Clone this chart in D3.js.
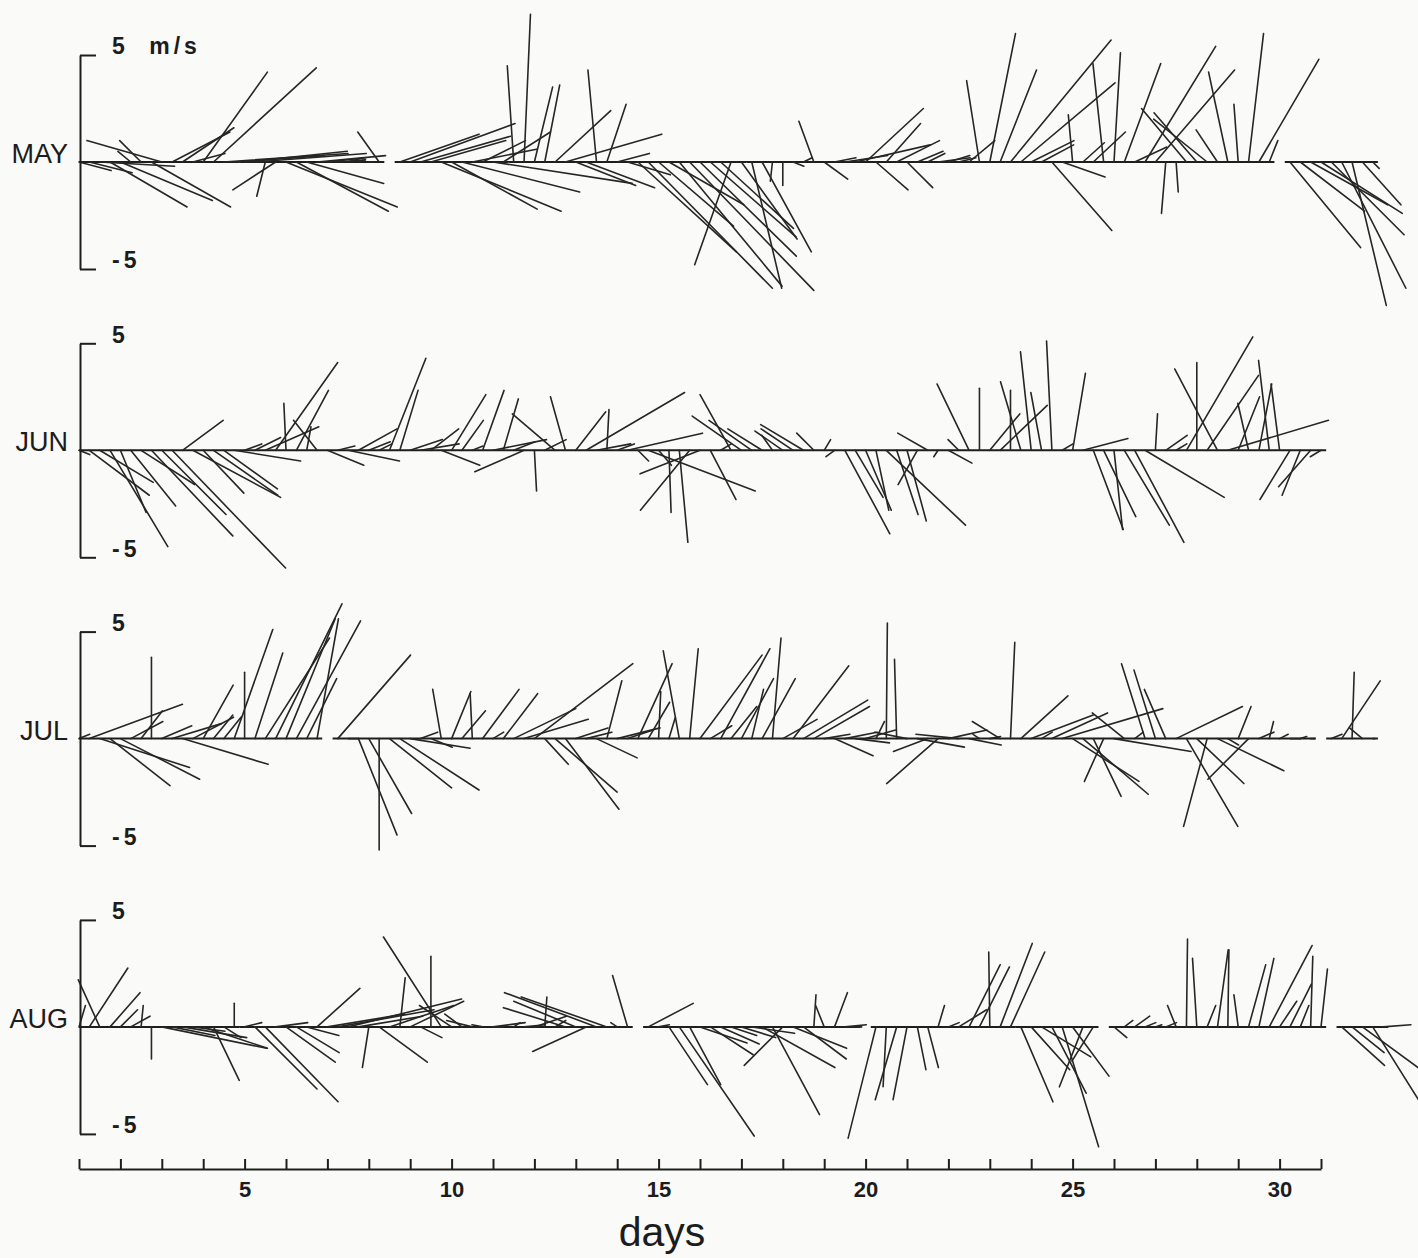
<!DOCTYPE html>
<html>
<head>
<meta charset="utf-8">
<script src="https://cdn.jsdelivr.net/npm/d3@7"></script>
<style>
    body { margin: 0; background: #fafaf9; }
    svg { display: block; }
    text { font-family: 'Liberation Sans', Arial, sans-serif; fill: #1c1c1c; }
</style>
</head>
<body>
<svg></svg>
<script>
let width = 1418;
let height = 1258;

const months = ['MAY', 'JUN', 'JUL', 'AUG'];
const startDay = 1;    // first sample at day 1
const step = 0.25;     // one vector every 6 h

// [east, north] wind components in m/s, one pair per 6 h, null = no data
const may = [
    [1.5,-0.4],[2.0,-0.5],[3.5,-0.2],[3.6,-2.1],[4.3,-1.8],[-0.6,0.5],[-1.0,1.0],[3.7,-2.1],[-3.5,1.0],[2.7,1.4],
    [2.4,1.6],[1.5,0.4],[3.0,4.2],[4.8,4.4],[5.8,0.4],[4.2,0.3],[4.8,0.5],[5.2,0.4],[-0.4,-1.6],[-2.0,-1.3],
    [5.2,-2.1],[4.3,-2.3],[3.6,-1.0],[3.2,0.3],[1.8,0.2],[1.3,0.1],[0.7,0.2],[0.3,0.1],[0.2,0.0],[-1.0,1.4],
    null,[3.7,1.3],[4.9,1.8],[4.2,1.2],[3.5,1.0],[5.6,-2.3],[4.0,-2.2],[5.5,-1.4],[3.0,0.6],[2.0,1.0],
    [6.5,-1.0],[2.2,1.4],[-0.3,4.5],[0.3,6.9],[0.85,3.5],[0.7,3.6],[2.6,2.4],[4.5,1.3],[2.8,-1.1],[3.2,-1.2],
    [-0.4,4.3],[0.9,2.7],[1.5,0.4],[2.0,-0.6],[4.6,-4.2],[5.8,-5.9],[3.5,-3.0],[3.5,-2.0],[4.8,-5.8],[5.8,-6.0],
    [4.5,-4.4],[4.0,-3.5],[3.4,-3.1],[-1.7,-4.8],[2.6,-3.6],[1.4,-5.9],[2.3,-4.2],[-0.1,-0.9],[0.0,-1.1],[0.5,-0.2],
    [0.4,0.2],[-0.7,1.9],[1.1,-0.8],[1.0,0.2],[2.0,0.3],[3.5,0.8],[2.7,2.5],[1.5,-1.3],[1.6,1.8],[2.0,1.0],
    [1.2,-1.2],[1.2,0.5],[0.8,0.4],[1.5,0.2],[1.0,0.3],[0.8,0.2],[1.2,1.0],[-0.6,3.8],[1.2,6.0],[1.7,4.3],
    [4.7,5.7],[4.4,3.7],[2.0,1.0],[1.5,0.8],[2.8,-3.2],[2.0,-0.7],[-0.2,2.2],[1.0,0.9],[1.5,1.4],[-0.5,4.6],
    [0.3,5.1],[1.7,4.6],[1.5,0.7],[3.3,5.4],[3.7,4.3],[-0.2,-2.4],[0.1,-1.4],[-2.1,2.5],[-2.0,2.3],[-2.5,2.0],
    [-1.0,1.5],[-0.9,4.2],[-0.2,2.7],[0.7,6.0],[2.8,4.8],[0.4,1.0],null,[3.3,-4.0],[3.0,-2.3],[3.6,-2.0],
    [3.8,-2.4],[3.4,-3.4],[3.0,-5.9],[1.6,-6.7],[1.8,-2.0],[0.3,-0.3]
];

const jun = [
    [0.5,-0.2],[2.8,-2.1],[2.5,-1.5],[2.7,-4.5],[1.2,-2.9],[2.1,-2.6],[2.5,-1.6],[3.8,-4.0],[3.0,-3.0],[5.3,-5.5],
    [1.9,1.4],[4.1,-2.2],[1.9,-2.0],[3.0,-2.1],[2.5,-1.8],[3.1,-0.5],[0.8,0.3],[1.2,0.6],[2.5,1.1],[2.9,4.1],
    [-0.1,2.2],[1.5,2.8],[0.2,1.1],[-1.1,1.4],[1.7,-0.7],[0.8,0.2],[2.4,-0.5],[1.8,1.0],[1.0,0.4],[0.6,0.3],
    [1.7,4.3],[0.85,2.8],[1.5,0.5],[1.8,0.3],[1.3,1.0],[1.8,-0.7],[1.6,2.6],[1.0,1.4],[0.5,0.2],[1.0,2.8],
    [2.5,0.5],[0.7,2.4],[1.0,0.4],[-2.3,-1.0],[0.1,-1.9],[1.0,0.5],[-2.0,1.7],[-0.7,2.5],[1.4,1.8],[4.6,2.7],
    [1.6,0.3],[0.1,1.9],[0.8,0.3],[3.5,0.8],[0.5,-0.5],[5.0,-1.9],[0.6,-0.7],[0.1,-2.9],[0.4,-4.3],[-2.3,-2.8],
    [-2.8,-1.1],[1.2,-2.3],[0.5,0.3],[-1.45,2.6],[-2.3,1.6],[-2.0,1.4],[-1.6,1.0],[-0.5,0.7],[-1.3,0.9],[-1.5,1.0],
    [-2.0,1.2],[-0.8,0.8],[0.3,0.5],[-0.4,-0.3],[2.1,-3.9],[1.3,-2.2],[1.2,-2.8],[0.6,-2.8],[3.7,-3.5],[1.0,-3.0],
    [0.9,-3.3],[-0.9,-1.6],[-1.4,0.8],[-0.2,-0.3],[1.1,-0.6],[-0.5,0.5],[-1.5,3.1],[0.0,2.9],[1.4,1.7],[2.2,2.1],
    [0.0,2.8],[-0.95,3.2],[-0.5,4.6],[-0.5,2.7],[-0.25,5.1],[0.5,0.3],[0.6,3.6],[2.1,0.55],[1.4,-3.7],[1.5,-3.1],
    [0.4,-3.7],[2.1,-3.5],[2.3,-4.3],[3.7,-2.2],[0.1,1.7],[1.0,0.7],[0.5,0.3],[3.1,5.3],[0.0,4.1],[2.4,3.5],
    [-2.0,3.8],[4.7,1.4],[1.0,2.5],[-0.5,2.2],[0.6,3.1],[-0.5,4.2],[-0.4,3.1],[-1.4,-2.3],[-0.85,-2.1],[-1.5,-1.7],
    [-0.5,-0.3]
];

const jul = [
    [0.5,0.2],[4.35,1.6],[4.2,-1.35],[2.8,-2.2],[3.7,-1.9],[1.5,0.8],[1.0,1.3],[0.0,3.8],[1.4,0.6],[2.3,0.7],
    [4.0,-1.2],[1.9,1.0],[1.4,2.5],[0.9,1.1],[0.8,1.0],[1.8,5.1],[0.0,3.1],[1.3,4.0],[3.0,4.7],[3.1,6.3],
    [2.3,5.6],[3.0,5.5],[1.4,2.8],[1.0,5.6],null,[3.4,3.9],[0.5,0.0],[1.8,-4.5],[2.0,-3.5],[0.0,-5.2],
    [2.9,-2.3],[3.7,-2.4],[2.8,-0.45],[0.8,0.3],[1.0,-0.4],[-0.4,2.3],[0.9,2.2],[1.1,1.3],[-0.1,2.1],[1.7,2.3],
    [0.5,0.3],[1.6,2.1],[2.9,1.4],[3.0,0.9],[4.6,3.5],[1.1,-1.2],[2.9,-2.5],[2.5,-3.3],[1.5,0.5],[1.2,0.3],
    [1.9,-0.9],[0.7,2.7],[2.0,0.5],[1.2,0.4],[1.6,3.5],[1.0,1.7],[0.1,2.2],[0.3,1.0],[-0.75,4.1],[0.4,4.2],
    [2.9,3.9],[1.0,0.6],[2.3,4.2],[1.2,1.5],[1.5,2.8],[0.55,2.3],[1.55,2.8],[0.4,4.7],[1.6,0.9],[2.6,3.4],
    [3.0,1.8],[2.6,1.5],[1.2,0.2],[1.8,-0.8],[1.5,0.3],[1.6,-0.2],[1.4,0.4],[0.4,0.8],[0.05,5.4],[-0.1,3.7],
    [-1.5,0.3],[2.2,-0.4],[-1.6,-0.6],[-2.4,-2.1],[1.8,0.4],[-2.0,0.2],[1.5,-0.3],[-0.3,0.2],[0.5,0.1],[-1.3,0.8],
    [0.2,4.5],[2.2,2.0],[2.9,1.1],[0.5,0.3],[2.6,1.2],[4.7,1.4],[3.1,-2.0],[3.05,-2.6],[1.3,-2.7],[-0.9,-2.0],
    [3.6,-0.6],[-1.5,1.2],[0.4,0.3],[-1.1,3.5],[-1.0,3.2],[-1.0,2.3],[3.1,1.5],[2.4,-4.1],[2.2,-2.1],[-1.1,-4.1],
    [3.1,-1.5],[0.5,-0.3],[0.6,1.5],[-1.9,-1.9],[0.7,0.3],[0.2,0.8],[0.4,0.2],[0.5,0.0],[0.3,0.1],[0.2,0.0],
    null,[0.5,0.2],[1.8,2.7],[0.1,3.1],[-0.6,0.5],[0.1,0.0]
];

const aug = [
    [0.3,1.0],[1.8,2.75],[-1.0,2.2],[1.4,1.6],[0.8,0.8],[0.9,0.5],[0.1,1.0],[0.0,-1.5],[4.9,-1.0],[2.0,-0.4],
    [3.0,-0.5],[1.5,-0.2],[3.0,-1.0],[1.2,-2.5],[0.8,-0.5],[0.0,1.1],[0.8,0.2],[2.9,-2.9],[3.4,-3.5],[1.5,0.2],
    [2.3,-1.65],[2.0,-1.2],[1.5,-0.4],[2.0,1.8],[3.6,0.6],[4.5,0.8],[5.3,1.3],[3.0,0.5],[-0.3,-1.9],[2.25,-1.65],
    [3.0,1.0],[0.25,2.3],[2.5,1.2],[1.0,-0.5],[0.0,3.3],[-2.7,4.2],[-1.5,1.0],[-0.8,0.6],[-1.2,0.3],[-0.5,0.1],
    [1.5,0.2],[-0.5,0.0],[0.3,0.2],[1.0,0.1],[1.5,0.5],[0.1,1.4],[0.5,0.3],[-2.9,0.9],[-2.9,1.2],[-2.5,-1.15],
    [-4.3,1.6],[-4.0,1.4],[-0.3,0.2],[-0.7,2.4],null,[2.1,1.1],[0.5,0.1],[1.8,-2.7],[3.5,-5.1],[1.45,-2.7],
    [2.2,-0.75],[2.0,-1.3],[1.8,-0.8],[1.2,-0.4],[1.6,-0.5],[2.0,-0.3],[3.4,-1.9],[2.2,-4.1],[-1.8,-1.8],[2.5,-1.0],
    [2.0,-1.5],[0.1,1.5],[-0.4,1.0],[0.6,1.6],[1.0,0.1],[0.3,0.0],null,[-1.3,-5.2],[-0.15,-2.8],[-1.0,-3.4],
    [-0.65,-3.4],[0.4,-2.0],[0.5,-1.9],[0.3,1.0],[0.5,0.2],[1.3,0.8],[1.45,2.9],[1.4,2.8],[-0.05,3.5],[1.5,3.9],
    [1.6,3.5],[1.5,-3.5],[1.8,-2.0],[2.3,-1.4],[1.6,-3.1],[1.7,-5.6],[1.7,-2.3],[-1.1,-2.8],[-1.0,-1.6],null,
    [0.6,-0.5],[0.4,0.3],[0.7,0.5],[0.5,0.2],[0.3,0.1],[0.5,0.2],[-0.4,1.0],[0.05,4.1],[-0.2,3.2],[0.4,1.0],
    [0.5,3.6],[0.05,3.6],[-0.2,1.5],[0.8,2.9],[0.7,3.2],[2.0,3.8],[0.8,1.2],[1.0,2.0],[0.4,1.0],[0.1,3.3],
    [0.3,2.7],null,[2.0,-1.8],[1.5,-1.2],[2.6,-1.9],[2.2,-3.5],[1.3,0.1]
];

const windByMonth = [may, jun, jul, aug];

const dayTicks = d3.range(1, 32);
const dayLabels = [5, 10, 15, 20, 25, 30];

let svg = d3.select('svg')
    .attr('width', width)
    .attr('height', height);

let x = d3.scaleLinear()
    .domain([1, 31])
    .range([79, 1321]);

let panelTop = 162;   // baseline of first panel
let panelGap = 288.3;
let half = 107;       // pixels for 5 m/s

months.forEach(function (month, k) {
    let base = panelTop + k * panelGap;
    let y = d3.scaleLinear()
        .domain([-5, 5])
        .range([base + half, base - half]);
    let ppm = y(0) - y(1);   // same pixels per m/s for the east component

    let data = windByMonth[k]
        .map(function (d, i) {
            return d ? {t: startDay + i * step, u: d[0], v: d[1]} : null;
        })
        .filter(d => d !== null);

    let g = svg.append('g').attr('class', 'panel');

    // zero line, only where there is data
    g.append('path')
        .attr('d', data.map(function (d) {
            return 'M' + x(Math.max(1, d.t - step / 2)) + ',' + y(0) + 'H' + x(d.t + step / 2);
        }).join(''))
        .attr('stroke', '#1e1e1e')
        .attr('stroke-width', 2)
        .attr('fill', 'none');

    g.selectAll('line.stick')
        .data(data)
        .enter()
        .append('line')
        .attr('class', 'stick')
        .attr('x1', d => x(d.t))
        .attr('y1', y(0))
        .attr('x2', d => x(d.t) + d.u * ppm)
        .attr('y2', d => y(d.v))
        .attr('stroke', '#262626')
        .attr('stroke-width', 1.6)
        .attr('stroke-linecap', 'round');

    let yAxis = d3.axisRight(y)
        .tickValues([-5, 5])
        .tickSize(16)
        .tickSizeOuter(0)
        .tickPadding(16)
        .tickFormat(function (d) {
            if (d < 0) return '-5';
            return k === 0 ? '5 m/s' : '5';
        });

    let ya = g.append('g')
        .attr('transform', 'translate(80,0)')
        .call(yAxis);
    ya.selectAll('path, line')
        .attr('stroke', '#1e1e1e')
        .attr('stroke-width', 2);
    ya.selectAll('text')
        .attr('dy', '-0.05em')
        .style('font-size', '23px')
        .style('font-weight', 'bold')
        .style('letter-spacing', '4px')
        .style('word-spacing', '10px')
        .attr('fill', '#1c1c1c');

    g.append('text')
        .attr('x', 68)
        .attr('y', y(0) + 1)
        .attr('text-anchor', 'end')
        .style('font-size', '27px')
        .text(month);
});

let xAxis = d3.axisBottom(x)
    .tickValues(dayTicks)
    .tickSize(-10)
    .tickSizeOuter(0)
    .tickPadding(12)
    .tickFormat(d => dayLabels.includes(d) ? d : '');

let xa = svg.append('g')
    .attr('transform', 'translate(0,1169)')
    .call(xAxis);
xa.selectAll('path, line')
    .attr('stroke', '#1e1e1e')
    .attr('stroke-width', 2);
xa.selectAll('text')
    .style('font-size', '22px')
    .style('font-weight', 'bold')
    .attr('fill', '#1c1c1c');

svg.append('text')
    .attr('x', 662)
    .attr('y', 1246)
    .attr('text-anchor', 'middle')
    .style('font-size', '41px')
    .text('days');
</script>
</body>
</html>
